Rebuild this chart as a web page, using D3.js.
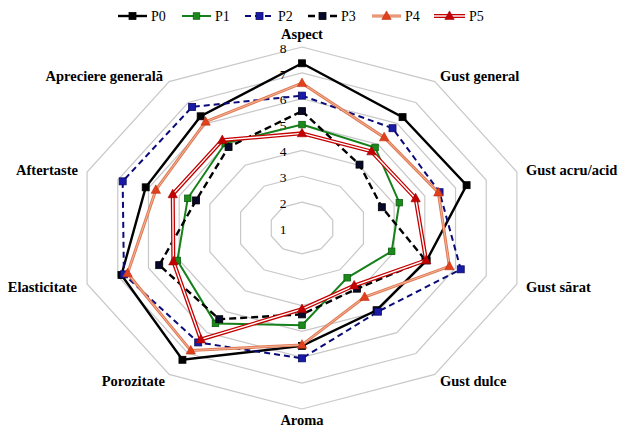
<!DOCTYPE html>
<html><head><meta charset="utf-8">
<script src="https://cdn.jsdelivr.net/npm/d3@7"></script>
<style>body{margin:0;background:#fff}svg{display:block}</style>
</head><body>
<svg id="c" width="619" height="429"></svg>
<script>
const axes = ["Aspect","Gust general","Gust acru/acid","Gust sărat","Gust dulce","Aroma","Porozitate","Elasticitate","Aftertaste","Apreciere generală"];
const seriesNames = ["P0","P1","P2","P3","P4","P5"];
const P0 = [7.37,6.30,6.36,5.06,4.93,5.56,7.30,6.88,6.09,6.34];
const P1 = [5.00,4.85,4.17,3.92,3.38,4.76,5.56,5.06,4.72,5.05];
const P2 = [6.12,5.77,5.48,6.17,5.00,6.04,6.47,6.80,6.84,6.79];
const P3 = [5.52,4.03,3.60,5.02,3.90,4.34,5.36,5.65,4.45,4.87];
const P4 = [6.60,5.33,5.44,5.80,4.30,5.52,6.86,6.68,5.76,6.08];
const P5 = [4.66,4.66,4.70,5.04,3.75,4.14,6.33,5.19,5.21,5.20];
const ticks = [1,2,3,4,5,6,7,8];

const data = [P0,P1,P2,P3,P4,P5];
const styles = [
  {stroke:"#000",w:2.4,dash:null,marker:"square",fill:"#000",mstroke:"#000",ms:7},
  {stroke:"#16801a",w:2,dash:null,marker:"square",fill:"#1a8a1a",mstroke:"#0d5e10",ms:6.5},
  {stroke:"#0a0a78",w:2,dash:"6,4",marker:"square",fill:"#1a1aa8",mstroke:"#0a0a60",ms:7},
  {stroke:"#000",w:2.4,dash:"7,4",marker:"square",fill:"#08082a",mstroke:"#000",ms:7},
  {stroke:"#e07a55",w:3,dash:null,inner:"#f6c4ab",iw:0.8,marker:"tri",fill:"#e0401c",mstroke:"#c03010",ms:8.5},
  {stroke:"#c40000",w:4,dash:null,inner:"#fff",iw:1.4,marker:"tri",fill:"#c40000",mstroke:"#a00000",ms:8.5}
];

const svg = d3.select("#c");
const cx = 302, cy = 228;
const rX = d3.scaleLinear().domain([1,8]).range([0,226]);
const rY = d3.scaleLinear().domain([1,8]).range([0,181]);
const ang = d3.scaleLinear().domain([0,axes.length]).range([0,2*Math.PI]);
function pt(i,v){const a=ang(i);return [cx+Math.sin(a)*rX(v), cy-Math.cos(a)*rY(v)];}

// grid rings
const g = svg.append("g");
ticks.filter(t=>t>1).forEach(t=>{
  g.append("path")
   .attr("d", d3.line()(axes.map((a,i)=>pt(i,t)))+"Z")
   .attr("fill","none").attr("stroke","#c8c8c8").attr("stroke-width",1.2);
});
// tick labels
ticks.forEach(t=>{
  svg.append("text").attr("x",cx-19).attr("y",cy-rY(t)+1).attr("dy","0.35em")
   .attr("text-anchor","middle").attr("font-family","Liberation Serif, serif")
   .attr("font-size",13.5).attr("fill","#000").text(t);
});
// axis labels
const labelPos = [
  {x:302,y:34,a:"middle"},{x:440,y:76,a:"start"},{x:526,y:170,a:"start"},{x:526,y:287,a:"start"},
  {x:440,y:381,a:"start"},{x:302,y:420,a:"middle"},{x:165,y:381,a:"end"},{x:77,y:287,a:"end"},
  {x:78,y:170,a:"end"},{x:163,y:76,a:"end"}];
axes.forEach((a,i)=>{
  svg.append("text").attr("x",labelPos[i].x).attr("y",labelPos[i].y).attr("dy","0.35em")
   .attr("text-anchor",labelPos[i].a).attr("font-family","Liberation Serif, serif")
   .attr("font-weight","bold").attr("font-size",14.5).attr("fill","#000").text(a);
});

function drawMarker(sel,st,x,y){
  if(st.marker==="square"){
    sel.append("rect").attr("x",x-st.ms/2).attr("y",y-st.ms/2).attr("width",st.ms).attr("height",st.ms)
      .attr("fill",st.fill).attr("stroke",st.mstroke).attr("stroke-width",0.8);
  } else {
    const s=st.ms;
    sel.append("path").attr("d",`M${x},${y-s*0.6}L${x+s*0.55},${y+s*0.4}L${x-s*0.55},${y+s*0.4}Z`)
      .attr("fill",st.fill).attr("stroke",st.mstroke).attr("stroke-width",0.6);
  }
}

data.forEach((vals,si)=>{
  const st=styles[si];
  const pts = vals.map((v,i)=>pt(i,v));
  const d = d3.line()(pts)+"Z";
  const sg = svg.append("g");
  sg.append("path").attr("d",d).attr("fill","none").attr("stroke",st.stroke)
    .attr("stroke-width",st.w).attr("stroke-dasharray",st.dash).attr("stroke-linejoin","miter");
  if(st.inner) sg.append("path").attr("d",d).attr("fill","none").attr("stroke",st.inner).attr("stroke-width",st.iw);
  pts.forEach(p=>drawMarker(sg,st,p[0],p[1]));
});

// legend
const legX = [118,182,245,308,372,434];
seriesNames.forEach((n,si)=>{
  const st=styles[si]; const x0=legX[si], y=16, len=si===5?31:29;
  const lg=svg.append("g");
  lg.append("line").attr("x1",x0).attr("x2",x0+len).attr("y1",y).attr("y2",y)
    .attr("stroke",st.stroke).attr("stroke-width",st.w).attr("stroke-dasharray",st.dash);
  if(st.inner) lg.append("line").attr("x1",x0).attr("x2",x0+len).attr("y1",y).attr("y2",y)
    .attr("stroke",st.inner).attr("stroke-width",st.iw);
  drawMarker(lg,st,x0+len/2,y);
  lg.append("text").attr("x",x0+len+4).attr("y",y).attr("dy","0.35em")
    .attr("font-family","Liberation Serif, serif").attr("font-size",14).attr("fill","#000").text(n);
});
</script>
</body></html>
